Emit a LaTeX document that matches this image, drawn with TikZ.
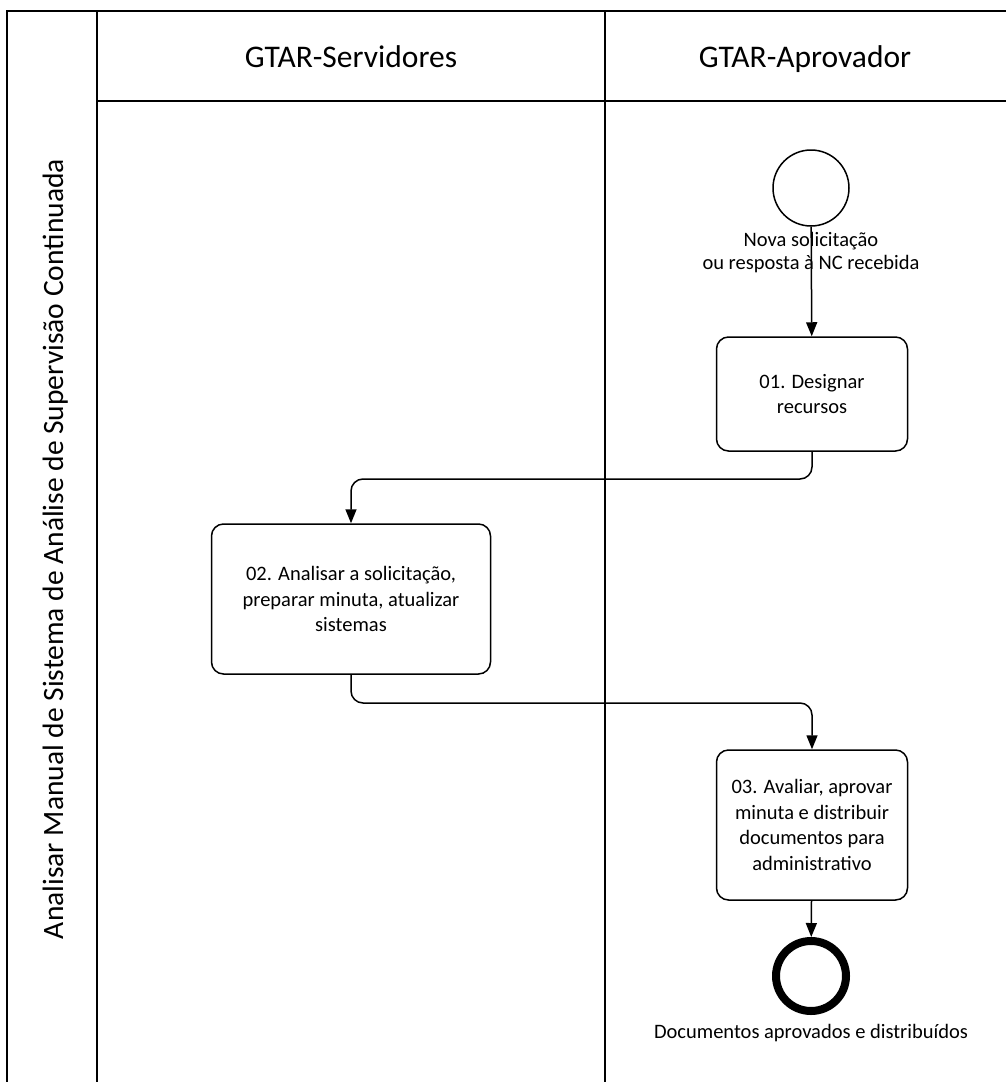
\documentclass[tikz,border=0pt]{standalone}
\usepackage{fontspec}
\setmainfont{Carlito}
\usetikzlibrary{arrows.meta}
\begin{document}
\begin{tikzpicture}[x=1pt,y=-1pt,line width=1.5pt,
    >={Triangle[length=14pt,width=11pt]}]
        \useasboundingbox (0,0) rectangle (1006,1082);
        % pool and lanes
        \begin{scope}[line width=2pt]
            \draw (7,1082) -- (7,11) -- (1006,11);
            \draw (97,11) -- (97,1082);
            \draw (97,101) -- (1006,101);
            \draw (605,11) -- (605,1082);
        \end{scope}
        \begin{scope}[every node/.style={font=\fontsize{31.5}{36}\selectfont,anchor=base}]
            \node (pool) at (63,549) [rotate=90,font=\fontsize{29.5}{34}\selectfont] {Analisar Manual de Sistema de Análise de Supervisão Continuada};
            \node (lane1) at (351,67) {GTAR-Servidores};
            \node (lane2) at (805,67) {GTAR-Aprovador};
        \end{scope}
        % events
        \node (start) at (811,188) [circle,draw,minimum size=76pt,inner sep=0pt] {};
        \node (end) at (811,976) [circle,draw,line width=8pt,minimum size=70pt,inner sep=0pt] {};
        \begin{scope}[every node/.style={font=\fontsize{20.5}{23}\selectfont,align=center}]
            \node (startlabel) at (811,253) {Nova solicitação\\ou resposta à NC recebida};
            \node (endlabel) at (811,1033) {Documentos aprovados e distribuídos};
        \end{scope}
        % tasks
        \begin{scope}[every node/.style={draw,rounded corners=12pt,align=center,
            font=\fontsize{20.5}{25.5}\selectfont,inner sep=0pt}]
            \node (01) at (812,394) [minimum width=191pt,minimum height=114pt] {01. Designar\\recursos};
            \node (02) at (351,599) [minimum width=279pt,minimum height=150pt] {02. Analisar a solicitação,\\preparar minuta, atualizar\\sistemas};
            \node (03) at (812,825) [minimum width=191pt,minimum height=150pt] {03. Avaliar, aprovar\\minuta e distribuir\\documentos para\\administrativo};
        \end{scope}
        \coordinate (k1) at (600,479);
        \coordinate (k2) at (600,703);
        \begin{scope}[every path/.style={draw,->,rounded corners=12pt}]
            \path (start) -- (01);
            \path (01.south) |- (k1) -| (02.north);
            \path (02.south) |- (k2) -| (03.north);
            \path (03) -- (end);
        \end{scope}
\end{tikzpicture}
\end{document}
